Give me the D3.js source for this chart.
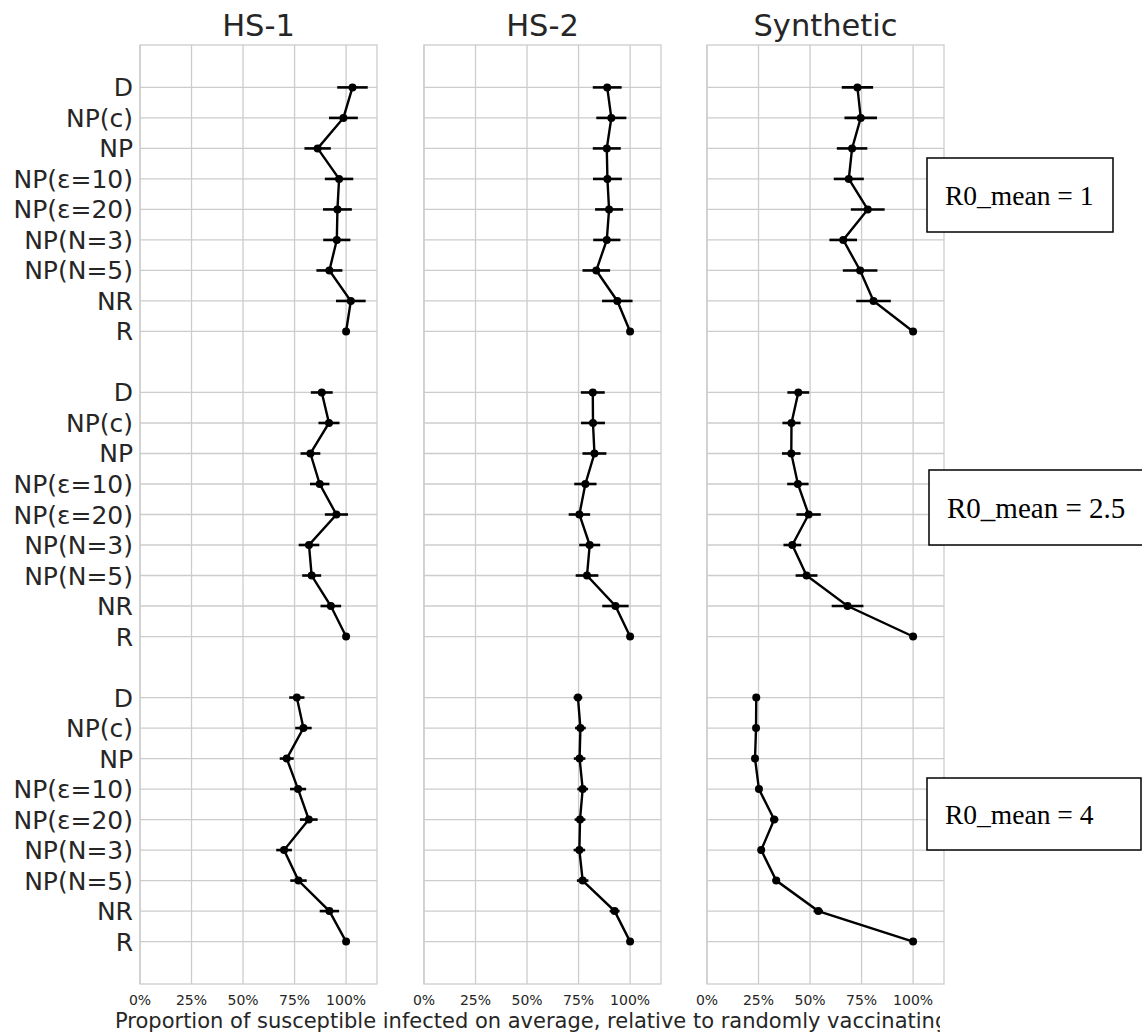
<!DOCTYPE html>
<html><head><meta charset="utf-8">
<script src="https://cdn.jsdelivr.net/npm/d3@7"></script>
<style>
html,body{margin:0;padding:0;background:#fff;}
svg{display:block;}
</style></head>
<body>
<svg id="chart" width="1142" height="1033"></svg>
<script>
// ---- data ----
const categories = ["D","NP(c)","NP","NP(ε=10)","NP(ε=20)","NP(N=3)","NP(N=5)","NR","R"];
const groups = ["R0_mean = 1","R0_mean = 2.5","R0_mean = 4"];
const panels = ["HS-1","HS-2","Synthetic"];
const xTicks = [0, 0.25, 0.5, 0.75, 1.0];
const xTickLabels = ["0%","25%","50%","75%","100%"];
const xLabel = "Proportion of susceptible infected on average, relative to randomly vaccinating";

// mean (%) per group (rows) per category
const hs1Mean = [
  [103.1, 98.7, 86.2, 96.6, 95.8, 95.5, 91.9, 102.3, 100],
  [88.2, 91.7, 82.7, 87.2, 95.3, 82.0, 83.3, 92.6, 100],
  [76.1, 79.3, 71.2, 76.7, 81.9, 69.9, 76.9, 91.9, 100]
];
const hs1Err = [
  [7.4, 7.0, 6.4, 6.9, 7.0, 6.6, 6.3, 7.2, 0],
  [5.3, 5.1, 4.8, 4.7, 5.6, 5.0, 4.6, 5.0, 0],
  [3.7, 4.0, 3.4, 3.9, 4.3, 3.8, 4.0, 4.7, 0]
];
const hs2Mean = [
  [88.9, 90.9, 88.7, 89.0, 89.8, 88.7, 83.6, 93.8, 100],
  [81.9, 82.0, 82.7, 78.3, 75.4, 80.4, 79.1, 92.9, 100],
  [74.7, 75.9, 75.5, 77.0, 75.7, 75.4, 77.0, 92.5, 100]
];
const hs2Err = [
  [7.0, 7.3, 6.8, 7.0, 6.8, 6.6, 6.7, 7.4, 0],
  [5.8, 5.8, 5.8, 5.4, 5.2, 5.1, 5.5, 6.4, 0],
  [2.1, 2.6, 2.8, 2.6, 2.6, 2.8, 2.8, 2.4, 0]
];
const synMean = [
  [73.0, 74.6, 70.4, 68.8, 78.0, 66.1, 74.3, 80.8, 100],
  [44.3, 41.0, 40.9, 44.1, 49.3, 41.4, 48.3, 68.2, 100],
  [23.9, 23.8, 23.3, 25.2, 32.6, 26.3, 33.6, 54.0, 100]
];
const synErr = [
  [7.6, 7.9, 7.4, 7.3, 8.2, 6.7, 8.4, 8.4, 0],
  [5.3, 4.4, 4.5, 5.2, 5.9, 4.3, 5.3, 7.7, 0],
  [0.8, 0.8, 0.8, 1.2, 2.0, 1.2, 1.8, 2.3, 0]
];

// ---- layout ----
const svg = d3.select("#chart");
const panelX = [140, 424, 707];
const panelW = 237;
const plotTop = 45, plotBottom = 984;
const gridColor = "#cccccc";
const textColor = "#262626";

const means = [hs1Mean, hs2Mean, synMean];
const errs = [hs1Err, hs2Err, synErr];

// row keys: 9 categories per group with a blank row in between
const rowKeys = [];
groups.forEach((g, gi) => {
  categories.forEach(c => rowKeys.push(gi + "|" + c));
  if (gi < groups.length - 1) rowKeys.push("gap" + gi);
});
const y = d3.scalePoint().domain(rowKeys).range([plotTop, plotBottom]).padding(1.39);

panels.forEach((p, pi) => {
  const x = d3.scaleLinear().domain([0, 1.15]).range([panelX[pi], panelX[pi] + panelW]);
  const g = svg.append("g");

  // vertical grid
  g.selectAll("line.vg").data(xTicks).join("line")
    .attr("x1", d => x(d)).attr("x2", d => x(d))
    .attr("y1", plotTop).attr("y2", plotBottom)
    .attr("stroke", gridColor).attr("stroke-width", 1.3);
  // horizontal grid (only labelled rows)
  const labelled = rowKeys.filter(k => !k.startsWith("gap"));
  g.selectAll("line.hg").data(labelled).join("line")
    .attr("x1", x(0)).attr("x2", x(1.15))
    .attr("y1", d => y(d)).attr("y2", d => y(d))
    .attr("stroke", gridColor).attr("stroke-width", 1.3);
  // frame
  g.append("rect").attr("x", x(0)).attr("y", plotTop)
    .attr("width", x(1.15) - x(0)).attr("height", plotBottom - plotTop)
    .attr("fill", "none").attr("stroke", gridColor).attr("stroke-width", 1.3);

  // x tick labels
  g.selectAll("text.xt").data(xTicks).join("text")
    .attr("x", d => x(d)).attr("y", 1005)
    .attr("text-anchor", "middle")
    .attr("font-family", "DejaVu Sans").attr("font-size", 14)
    .attr("fill", textColor)
    .text((d, i) => xTickLabels[i]);

  // title
  g.append("text").attr("x", (x(0) + x(1.15)) / 2).attr("y", 36)
    .attr("text-anchor", "middle")
    .attr("font-family", "DejaVu Sans").attr("font-size", 30.5)
    .attr("fill", textColor).text(p);

  // data per group
  groups.forEach((grp, gi) => {
    const pts = categories.map((c, ci) => ({
      key: gi + "|" + c,
      m: means[pi][gi][ci] / 100,
      e: errs[pi][gi][ci] / 100
    }));
    g.append("path").datum(pts)
      .attr("d", d3.line().x(d => x(d.m)).y(d => y(d.key)))
      .attr("fill", "none").attr("stroke", "#000").attr("stroke-width", 2.4);
    g.selectAll(null).data(pts.filter(d => d.e > 0)).join("line")
      .attr("x1", d => x(d.m - d.e)).attr("x2", d => x(d.m + d.e))
      .attr("y1", d => y(d.key)).attr("y2", d => y(d.key))
      .attr("stroke", "#000").attr("stroke-width", 2.6);
    g.selectAll(null).data(pts).join("circle")
      .attr("cx", d => x(d.m)).attr("cy", d => y(d.key)).attr("r", 4)
      .attr("fill", "#000");
  });
});

// y labels (first panel)
svg.append("g").selectAll("text").data(rowKeys.filter(k => !k.startsWith("gap"))).join("text")
  .attr("x", 133).attr("y", d => y(d))
  .attr("dy", "0.36em")
  .attr("text-anchor", "end")
  .attr("font-family", "DejaVu Sans").attr("font-size", 25)
  .attr("fill", textColor)
  .text(d => d.split("|")[1]);

// x axis label (clipped at the right as in reference)
svg.append("clipPath").attr("id", "clipLab").append("rect")
  .attr("x", 0).attr("y", 990).attr("width", 940).attr("height", 43);
svg.append("text").attr("clip-path", "url(#clipLab)")
  .attr("x", 115).attr("y", 1028)
  .attr("text-anchor", "start")
  .attr("font-family", "DejaVu Sans").attr("font-size", 21)
  .attr("fill", textColor).text(xLabel);

// annotation boxes
const boxes = [
  {x: 927, y: 158, w: 186, h: 74, fs: 27.5},
  {x: 929, y: 470, w: 222, h: 75, fs: 29},
  {x: 927, y: 778, w: 214, h: 72, fs: 27.5}
];
groups.forEach((grp, gi) => {
  const b = boxes[gi];
  svg.append("rect").attr("x", b.x).attr("y", b.y).attr("width", b.w).attr("height", b.h)
    .attr("fill", "#fff").attr("stroke", "#000").attr("stroke-width", 1.5);
  svg.append("text").attr("x", b.x + 18).attr("y", b.y + b.h / 2)
    .attr("dy", "0.35em")
    .attr("font-family", "Liberation Serif").attr("font-size", b.fs)
    .attr("fill", "#000").text(grp);
});
</script>
</body></html>
